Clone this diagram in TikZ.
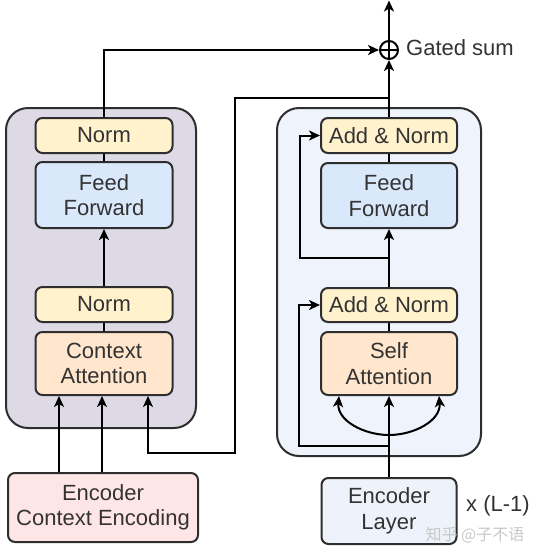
\documentclass[tikz,border=0pt]{standalone}
\usepackage{fontspec}
\setmainfont{Liberation Sans}
\newfontfamily\cjkfont{Noto Sans CJK SC}
\usetikzlibrary{arrows.meta,calc}
\definecolor{txtc}{HTML}{333333}
\definecolor{strokec}{HTML}{2E2E2E}
\definecolor{normfill}{HTML}{FFF2CC}
\definecolor{fffill}{HTML}{DAE8FC}
\definecolor{attfill}{HTML}{FFE6CC}
\definecolor{ectxfill}{HTML}{FFE6E6}
\definecolor{elayfill}{HTML}{EEF3FB}
\definecolor{lblockfill}{HTML}{DDDAE6}
\definecolor{rblockfill}{HTML}{EFF3FB}
\definecolor{wmark}{HTML}{C8C8C8}
\begin{document}
\begin{tikzpicture}[x=1pt,y=-1pt,
  box/.style={draw=strokec, line width=2pt, rounded corners=7pt, align=center,
    inner sep=0pt, text=txtc, font=\fontsize{22}{25.5}\selectfont},
  colbox/.style={box, minimum width=137pt},
  outerbox/.style={draw=strokec, line width=2pt, rounded corners=22pt, inner sep=0pt},
  conn/.style={line width=2pt, black},
  arr/.style={conn, -{Stealth[length=11pt,width=10pt,inset=3pt]}},
  lbl/.style={text=txtc, font=\fontsize{22}{26}\selectfont, inner sep=0pt}
]
\useasboundingbox (0,0) rectangle (538,555);

% outer blocks
\node[outerbox, fill=lblockfill, minimum width=190pt, minimum height=320pt] (lblock) at (101,268) {};
\node[outerbox, fill=rblockfill, minimum width=204pt, minimum height=348pt] (rblock) at (379,282) {};

% left column
\node[colbox, fill=normfill, minimum height=35pt] (lnormb) at (104,135.5) {Norm};
\node[colbox, fill=fffill, minimum height=66pt] (lff) at (104,195) {Feed\\Forward};
\node[colbox, fill=normfill, minimum height=35pt] (lnorma) at (104,304.5) {Norm};
\node[colbox, fill=attfill, minimum height=63pt] (lca) at (104,363.5) {Context\\Attention};
\node[box, fill=ectxfill, minimum width=190pt, minimum height=69pt] (ectx) at (103,507.5) {Encoder\\Context Encoding};

% right column
\node[box, fill=normfill, minimum width=136pt, minimum height=35pt] (ranb) at (389,135.5) {Add \& Norm};
\node[box, fill=fffill, minimum width=136pt, minimum height=65pt] (rff) at (389,195.5) {Feed\\Forward};
\node[box, fill=normfill, minimum width=136pt, minimum height=34pt] (rana) at (389,305) {Add \& Norm};
\node[box, fill=attfill, minimum width=136pt, minimum height=63pt] (rsa) at (389,363.5) {Self\\Attention};
\node[box, fill=elayfill, minimum width=135pt, minimum height=66pt] (elay) at (389,511) {Encoder\\Layer};

% gated sum
\node[circle, draw=black, line width=2pt, minimum size=18pt, inner sep=0pt] (g) at (389,50) {};
\draw[conn, line width=1.6pt] (g.north) -- (g.south) (g.west) -- (g.east);
\node[lbl, anchor=west] (gl) at (406,48) {Gated sum};
\coordinate (top) at (389,0.5);

% labels
\node[lbl, anchor=west] (rep) at (466,506) {x (L-1)};
\node[anchor=center, inner sep=0pt, text=wmark, font=\cjkfont\fontsize{16}{18}\selectfont] (wm) at (475,535) {知乎 @子不语};

% junctions
\coordinate (j1) at (389,98);
\coordinate (b1) at (235,98);
\coordinate (b2) at (235,453);
\coordinate (ca1) at ([xshift=-45pt]lca.south);
\coordinate (ca2) at ([xshift=-2pt]lca.south);
\coordinate (ca3) at ([xshift=44pt]lca.south);
\coordinate (j2) at (389,446);
\coordinate (s1) at (299,446);
\coordinate (j3) at (389,258);
\coordinate (s2) at (300,258);
\coordinate (arcb) at (389,435);
\coordinate (sa1) at ([xshift=-50pt]rsa.south);
\coordinate (sa3) at ([xshift=50pt]rsa.south);

% left connectors
\draw[arr] (ca1 |- ectx.north) -- (ca1);
\draw[arr] (ca2 |- ectx.north) -- (ca2);
\draw[arr] (j1) -- (b1) -- (b2) -| (ca3);
\draw[conn] (lca.north) -- (lnorma.south);
\draw[arr] (lnorma.north) -- (lff.south);
\draw[conn] (lff.north) -- (lnormb.south);
\draw[arr] (lnormb.north) |- (g.west);

% right connectors
\draw[arr] (elay.north) -- (rsa.south);
\draw[arr] (arcb) to[out=180, in=-95] (sa1);
\draw[arr] (arcb) to[out=0, in=-85] (sa3);
\draw[arr] (j2) -- (s1) |- (rana.west);
\draw[conn] (rsa.north) -- (rana.south);
\draw[arr] (rana.north) -- (rff.south);
\draw[conn] (rff.north) -- (ranb.south);
\draw[arr] (j3) -- (s2) |- (ranb.west);
\draw[arr] (ranb.north) -- (g.south);
\draw[arr] (g.north) -- (top);
\end{tikzpicture}
\end{document}
